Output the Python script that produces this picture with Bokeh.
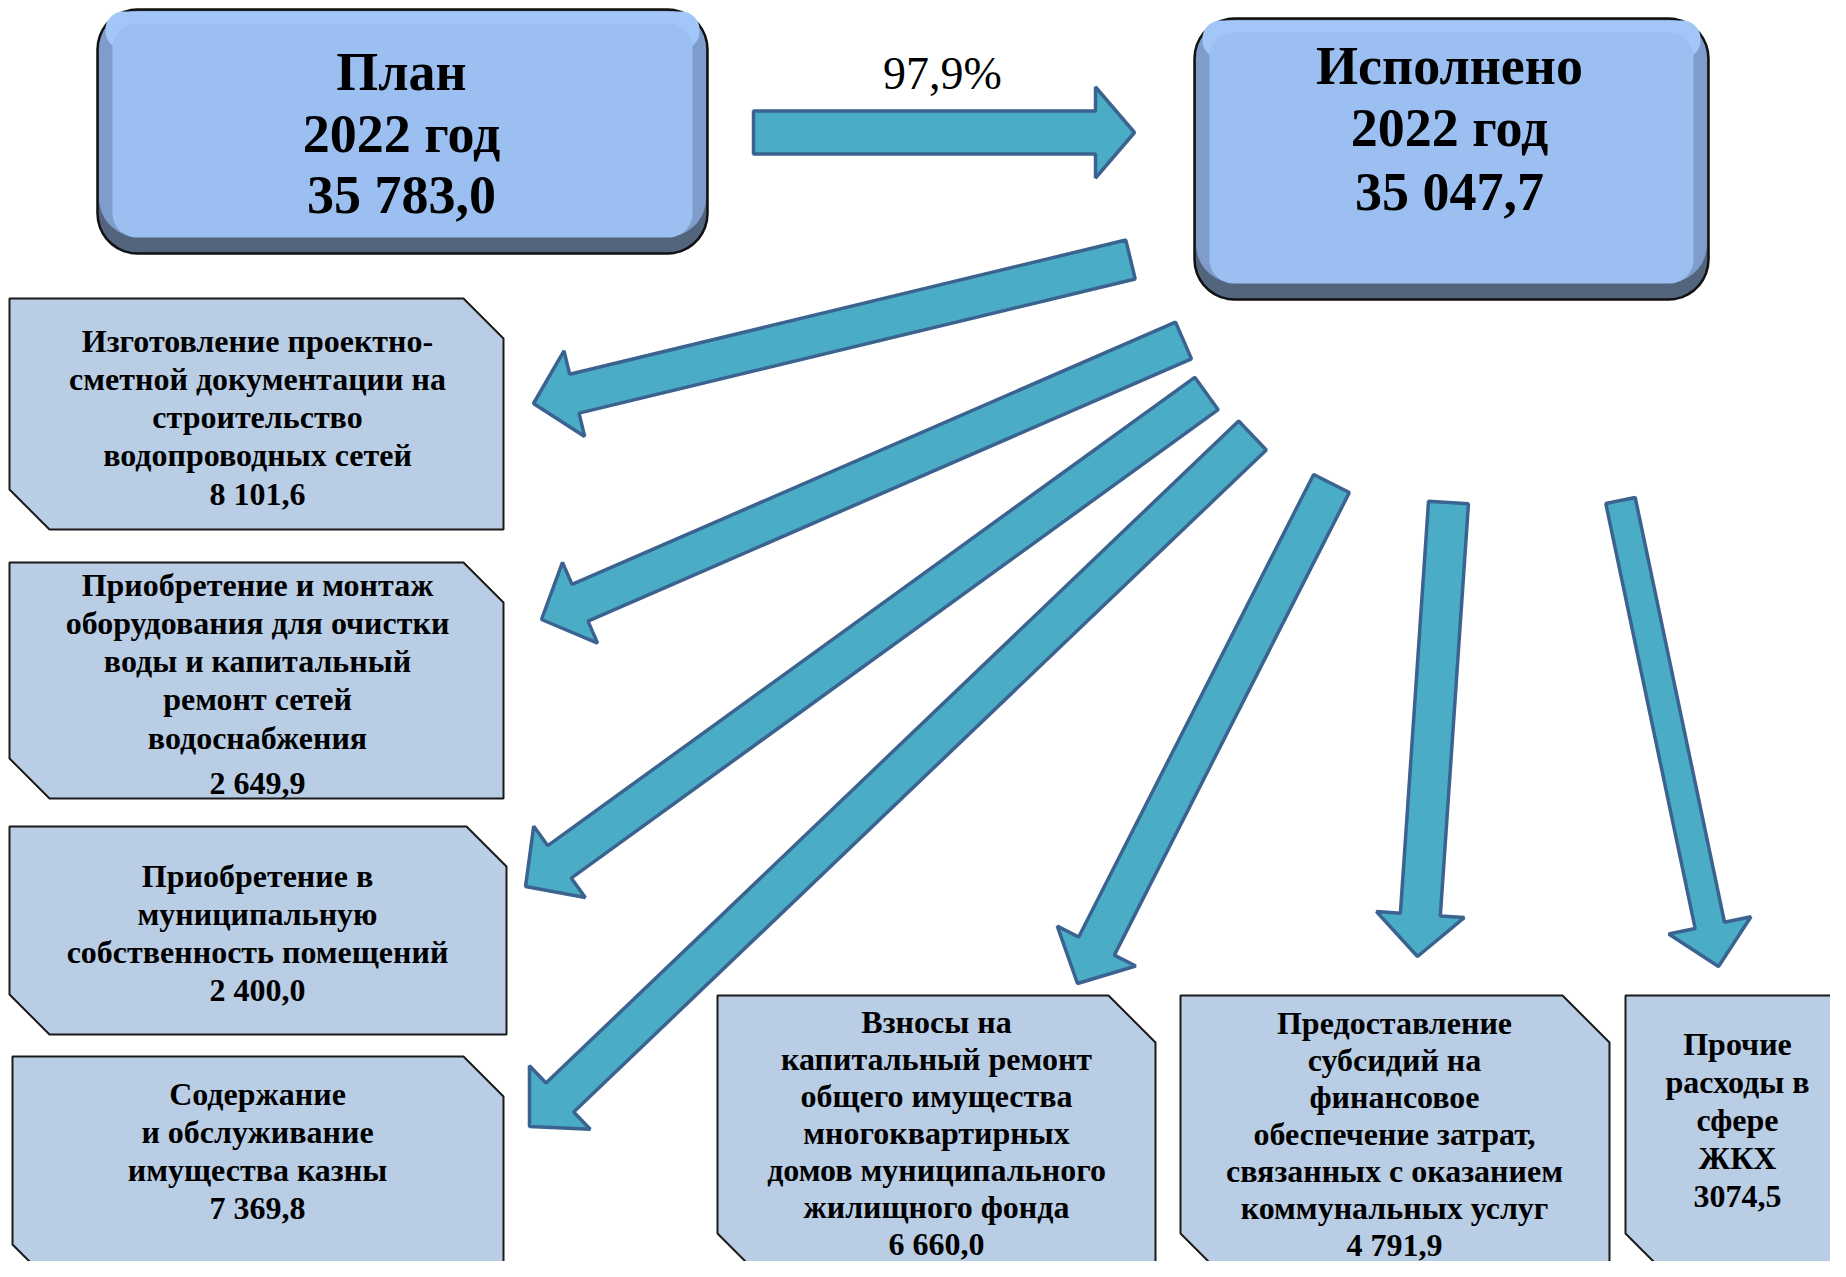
import numpy as np
from bokeh.plotting import figure
from bokeh.models import Range1d
from bokeh.embed import file_html
from bokeh.resources import INLINE
from bokeh.core.properties import value

# ---------------- data ----------------
year = 2022
plan_total = 35783.0
actual_total = 35047.7
execution_pct = 97.9

item_titles = [
    ["Изготовление проектно-", "сметной документации на", "строительство", "водопроводных сетей"],
    ["Приобретение и монтаж", "оборудования для очистки", "воды и капитальный", "ремонт сетей", "водоснабжения"],
    ["Приобретение в", "муниципальную", "собственность помещений"],
    ["Содержание", "и обслуживание", "имущества казны"],
    ["Взносы на", "капитальный ремонт", "общего имущества", "многоквартирных", "домов муниципального", "жилищного фонда"],
    ["Предоставление", "субсидий на", "финансовое", "обеспечение затрат,", "связанных с оказанием", "коммунальных услуг"],
    ["Прочие", "расходы в", "сфере", "ЖКХ"],
]
item_values = [8101.6, 2649.9, 2400.0, 7369.8, 6660.0, 4791.9, 3074.5]
item_grouped = [True, True, True, True, True, True, False]


def ru(v, grouped=True):
    s = f"{v:,.1f}" if grouped else f"{v:.1f}"
    return s.replace(",", " ").replace(".", ",")


# ---------------- layout (screen px) ----------------
# snipped boxes: left, top, right, bottom, cut, first text line y, line step, value extra gap, text centre x
box_layout = [
    (9, 298, 503, 529, 40, 340, 38.3, 0, 257),
    (9, 562, 503, 798, 40, 584, 38.3, 7, 257),
    (9, 826, 506, 1034, 40, 875, 38.3, 0, 257),
    (12, 1056, 503, 1284, 40, 1093, 38.3, 0, 257),
    (717, 995, 1155, 1280, 47, 1021, 37.0, 0, 936),
    (1180, 995, 1609, 1280, 47, 1022, 37.0, 0, 1394),
    (1625, 995, 1880, 1280, 47, 1043, 38.3, 0, 1737),
]

# arrows: tail (x, y), tip (x, y), shaft width, head width, head length
arrow_layout = [
    ((1130, 259), (533, 403), 40, 88, 42),
    ((1183, 340), (541, 619), 40, 88, 42),
    ((1206, 393), (525, 886), 40, 88, 42),
    ((1252, 435), (529, 1126), 40, 88, 42),
    ((1331, 483), (1077, 983), 40, 88, 42),
    ((1448, 502), (1417, 956), 40, 88, 42),
    ((1620, 500), (1718, 966), 30, 84, 42),
]
main_arrow = ((753, 132), (1134, 132), 43, 91, 39)

top_boxes = [
    (97, 9, 707, 253, 401, [71, 133, 194]),
    (1194, 18, 1708, 299, 1449, [65, 127, 191]),
]

# ---------------- figure ----------------
W, H = 1830, 1261
p = figure(width=W, height=H, x_range=Range1d(0, W), y_range=Range1d(H, 0),
           output_backend="svg", toolbar_location=None, min_border=0)
p.axis.visible = False
p.grid.visible = False
p.outline_line_color = None
p.background_fill_color = "white"
p.border_fill_color = "white"

SERIF = value("Liberation Serif")


def rrect(l, t, r, b, rad, n=10):
    xs, ys = [], []
    corners = [(r - rad, t + rad, -np.pi / 2, 0), (r - rad, b - rad, 0, np.pi / 2),
               (l + rad, b - rad, np.pi / 2, np.pi), (l + rad, t + rad, np.pi, 1.5 * np.pi)]
    for cx, cy, a0, a1 in corners:
        a = np.linspace(a0, a1, n)
        xs.extend(cx + rad * np.cos(a))
        ys.extend(cy + rad * np.sin(a))
    return xs, ys


def arrow(tail, tip, sw, hw, hl):
    t = np.array(tail, float)
    h = np.array(tip, float)
    d = (h - t) / np.linalg.norm(h - t)
    nrm = np.array([-d[1], d[0]])
    base = h - d * hl
    pts = [t + nrm * sw / 2, base + nrm * sw / 2, base + nrm * hw / 2, h,
           base - nrm * hw / 2, base - nrm * sw / 2, t - nrm * sw / 2]
    return [q[0] for q in pts], [q[1] for q in pts]


# ---- top 3D rounded boxes ----
top_texts = [["План", f"{year} год", ru(plan_total)],
             ["Исполнено", f"{year} год", ru(actual_total)]]
for (l, t, r, b, cx, ty), lines in zip(top_boxes, top_texts):
    xs, ys = rrect(l, t, r, b, 40)
    p.patch(xs, ys, fill_color="#53647d", line_color="#111111", line_width=2.5)
    xs, ys = rrect(l + 1.5, t + 1.5, r - 1.5, b - 17, 38)
    p.patch(xs, ys, fill_color="#7f9dcb", line_color=None)
    xs, ys = rrect(l + 8, t + 2, r - 8, t + 40, 18)
    p.patch(xs, ys, fill_color="#a2c6f8", line_color=None)
    xs, ys = rrect(l + 15, t + 14, r - 15, b - 16, 24)
    p.patch(xs, ys, fill_color="#9bbff0", line_color=None)
    p.text(x=[cx] * 3, y=ty, text=lines, text_font=SERIF, text_font_style="bold",
           text_font_size="54px", text_align="center", text_baseline="middle",
           text_color="#000000")

# ---- snipped item boxes ----
for (l, t, r, b, c, y0, step, gap, cx), lines, v, g in zip(box_layout, item_titles, item_values, item_grouped):
    xs = [l, r - c, r, r, l + c, l]
    ys = [t, t, t + c, b, b, b - c]
    p.patch(xs, ys, fill_color="#b9cde5", line_color="#1a1a1a", line_width=2)
    all_lines = lines + [ru(v, g)]
    ys_t = [y0 + i * step for i in range(len(lines))] + [y0 + len(lines) * step + gap]
    p.text(x=[cx] * len(all_lines), y=ys_t, text=all_lines, text_font=SERIF,
           text_font_style="bold", text_font_size="32px", text_align="center",
           text_baseline="middle", text_color="#000000")

# ---- arrows ----
axs, ays = [], []
for tail, tip, sw, hw, hl in [main_arrow] + arrow_layout:
    xs, ys = arrow(tail, tip, sw, hw, hl)
    axs.append(xs)
    ays.append(ys)
p.patches(axs, ays, fill_color="#4bacc6", line_color="#3b6390", line_width=3.5)

# ---- percentage label ----
p.text(x=[942], y=[73], text=[f"{execution_pct:.1f}%".replace(".", ",")], text_font=SERIF,
       text_font_size="46px", text_align="center", text_baseline="middle", text_color="#000000")

open("out.html", "w").write(file_html(p, INLINE))
